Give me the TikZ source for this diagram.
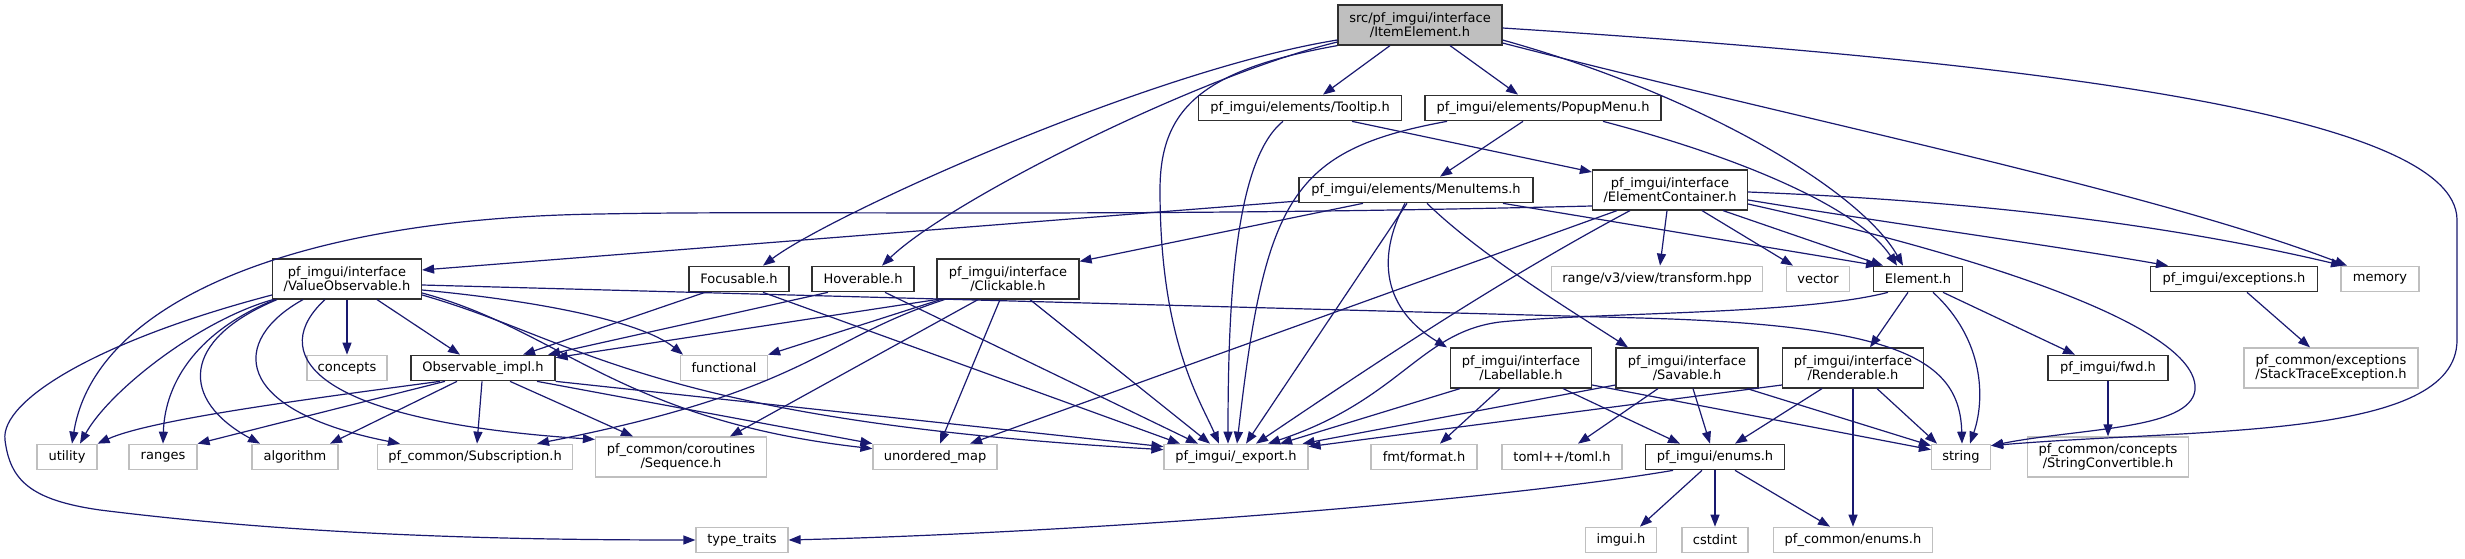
\documentclass[tikz,border=0pt]{standalone}
\usepackage{fontspec}
\setmainfont{DejaVu Sans}
\usepackage{tikz}
\usetikzlibrary{arrows.meta}

\definecolor{edgeblue}{HTML}{191970}
\definecolor{boxline}{HTML}{303030}
\definecolor{sysline}{HTML}{BFBFBF}
\definecolor{rootfill}{HTML}{BFBFBF}
\newcommand{\graphfont}{\fontsize{13}{14.3}\selectfont}

\begin{document}
\begin{tikzpicture}[
  x=1pt, y=1pt,
  hdr/.style={draw=boxline, fill=white, line width=1.2pt, inner sep=0pt, minimum height=25.5pt, align=center, font=\graphfont},
  sysbox/.style={hdr, draw=sysline},
  rootbox/.style={hdr, fill=rootfill},
  tall/.style={minimum height=40pt},
  dep/.style={draw=edgeblue, line width=1.2pt, -{Triangle[length=12pt,width=9pt]}}
]

% canvas
\fill[white] (0,0) rectangle (2465,-559);
\useasboundingbox (0,0) rectangle (2465,-559);

% ===== ROW 0 / 1 / 2 =====
\node[rootbox, tall, minimum width=164pt] at (1420,-25) (ie) {src/pf\_imgui/interface\\/ItemElement.h};
\node[hdr, minimum width=203pt] at (1300,-108) (tip) {pf\_imgui/elements/Tooltip.h};
\node[hdr, minimum width=236pt] at (1543,-108) (popup) {pf\_imgui/elements/PopupMenu.h};
\node[hdr, minimum width=234pt] at (1416,-190) (menu) {pf\_imgui/elements/MenuItems.h};
\node[hdr, tall, minimum width=155pt] at (1670,-190) (cont) {pf\_imgui/interface\\/ElementContainer.h};

% ===== ROW 3 =====
\node[hdr, tall, minimum width=149pt] at (347,-279) (valobs) {pf\_imgui/interface\\/ValueObservable.h};
\node[hdr, minimum width=100pt] at (739,-279) (focus) {Focusable.h};
\node[hdr, minimum width=102pt] at (863,-279) (hover) {Hoverable.h};
\node[hdr, tall, minimum width=142pt] at (1008,-279) (click) {pf\_imgui/interface\\/Clickable.h};
\node[sysbox, minimum width=211pt] at (1657,-279) (rng) {range/v3/view/transform.hpp};
\node[sysbox, minimum width=63pt] at (1818,-279) (vec) {vector};
\node[hdr, minimum width=89pt] at (1918,-279) (elem) {Element.h};
\node[hdr, minimum width=167pt] at (2234,-279) (exc) {pf\_imgui/exceptions.h};
\node[sysbox, minimum width=78pt] at (2380,-279) (mem) {memory};

% ===== ROW 4 =====
\node[sysbox, minimum width=80pt] at (347,-368) (concepts) {concepts};
\node[hdr, minimum width=144pt] at (483,-368) (obsimpl) {Observable\_impl.h};
\node[sysbox, minimum width=87pt] at (724,-368) (func) {functional};
\node[hdr, tall, minimum width=141pt] at (1521,-368) (label) {pf\_imgui/interface\\/Labellable.h};
\node[hdr, tall, minimum width=142pt] at (1687,-368) (save) {pf\_imgui/interface\\/Savable.h};
\node[hdr, tall, minimum width=141pt] at (1853,-368) (render) {pf\_imgui/interface\\/Renderable.h};
\node[hdr, minimum width=120pt] at (2108,-368) (fwd) {pf\_imgui/fwd.h};
\node[sysbox, tall, minimum width=174pt] at (2331,-368) (stack) {pf\_common/exceptions\\/StackTraceException.h};

% ===== ROW 5 =====
\node[sysbox, minimum width=60pt] at (67,-457) (util) {utility};
\node[sysbox, minimum width=68pt] at (163,-457) (ranges) {ranges};
\node[sysbox, minimum width=86pt] at (295,-457) (algo) {algorithm};
\node[sysbox, minimum width=195pt] at (475,-457) (subs) {pf\_common/Subscription.h};
\node[sysbox, tall, minimum width=171pt] at (681,-457) (seq) {pf\_common/coroutines\\/Sequence.h};
\node[sysbox, minimum width=124pt] at (935,-457) (umap) {unordered\_map};
\node[sysbox, minimum width=144pt] at (1236,-457) (export) {pf\_imgui/\_export.h};
\node[sysbox, minimum width=106pt] at (1424,-457) (fmt) {fmt/format.h};
\node[sysbox, minimum width=120pt] at (1562,-457) (toml) {toml++/toml.h};
\node[hdr, minimum width=139pt] at (1715,-457) (enums) {pf\_imgui/enums.h};
\node[sysbox, minimum width=59pt] at (1961,-457) (str) {string};
\node[sysbox, tall, minimum width=161pt] at (2108,-457) (strconv) {pf\_common/concepts\\/StringConvertible.h};

% ===== ROW 6 =====
\node[sysbox, minimum width=92pt] at (742,-540) (traits) {type\_traits};
\node[sysbox, minimum width=71pt] at (1621,-540) (imgui) {imgui.h};
\node[sysbox, minimum width=66pt] at (1715,-540) (cstdint) {cstdint};
\node[sysbox, minimum width=159pt] at (1853,-540) (pfenums) {pf\_common/enums.h};

% ===== ItemElement.h =====
\draw[dep] ([xshift=-30pt]ie.south) -- ([xshift=23pt]tip.north);
\draw[dep] ([xshift=30pt]ie.south) -- ([xshift=-25pt]popup.north);
\draw[dep] ([yshift=-15pt]ie.west) .. controls (1150,-70) and (830,-215) .. ([xshift=24pt]focus.north);
\draw[dep] ([yshift=-17pt]ie.west) .. controls (1200,-75) and (950,-200) .. ([xshift=19pt]hover.north);
\draw[dep] (ie.south west) .. controls (1200,-70) and (1160,-110) .. (1160,-190) .. controls (1160,-340) and (1200,-400) .. ([xshift=-17pt]export.north);
\draw[dep] ([yshift=-15pt]ie.east) .. controls (1700,-95) and (1860,-190) .. ([xshift=-15pt]elem.north);
\draw[dep] ([yshift=-18pt]ie.east) .. controls (1800,-120) and (2150,-190) .. ([xshift=-33pt]mem.north);
\draw[dep] ([yshift=-3pt]ie.east) .. controls (2000,-60) and (2457,-110) .. (2457,-220) -- (2457,-340) .. controls (2457,-440) and (2200,-428) .. ([yshift=-2pt]str.north east);

% ===== Tooltip.h / PopupMenu.h =====
\draw[dep] ([xshift=-17pt]tip.south) .. controls (1235,-160) and (1228,-300) .. ([xshift=-8pt]export.north);
\draw[dep] ([xshift=52pt]tip.south) -- ([yshift=18pt]cont.west);
\draw[dep] ([xshift=-20pt]popup.south) -- ([xshift=24pt]menu.north);
\draw[dep] ([xshift=-96pt]popup.south) .. controls (1290,-150) and (1265,-200) .. ([xshift=1pt]export.north);
\draw[dep] ([xshift=60pt]popup.south) .. controls (1750,-160) and (1860,-210) .. ([xshift=-21pt]elem.north);

% ===== MenuItems.h =====
\draw[dep] ([yshift=-11pt]menu.west) -- ([yshift=9pt]valobs.east);
\draw[dep] ([xshift=-53pt]menu.south) -- ([yshift=-3pt]click.north east);
\draw[dep] ([xshift=87pt]menu.south) -- ([xshift=-40pt]elem.north);
\draw[dep] ([xshift=-9pt]menu.south) -- ([xshift=10pt]export.north);
\draw[dep] ([xshift=-11pt]menu.south) .. controls (1375,-260) and (1385,-310) .. ([xshift=-74pt]label.north);
\draw[dep] ([xshift=11pt]menu.south) .. controls (1480,-255) and (1570,-310) .. ([xshift=-59pt]save.north);

% ===== ElementContainer.h =====
\draw[dep] ([yshift=-16pt]cont.west) .. controls (1100,-218) and (800,-210) .. (600,-214) .. controls (300,-218) and (95,-300) .. ([xshift=5pt]util.north);
\draw[dep] ([xshift=-53pt]cont.south) -- ([xshift=35pt]umap.north);
\draw[dep] ([xshift=-40pt]cont.south) .. controls (1500,-280) and (1380,-360) .. ([xshift=20pt]export.north);
\draw[dep] ([xshift=-3pt]cont.south) -- ([xshift=3pt]rng.north);
\draw[dep] ([xshift=32pt]cont.south) -- ([xshift=-25pt]vec.north);
\draw[dep] ([xshift=53pt]cont.south) -- ([xshift=-35pt]elem.north);
\draw[dep] ([yshift=-10pt]cont.east) .. controls (1900,-225) and (2050,-245) .. ([xshift=-66pt]exc.north);
\draw[dep] ([yshift=-2pt]cont.east) .. controls (1950,-200) and (2150,-220) .. ([xshift=-37pt]mem.north);
\draw[dep] ([yshift=-14pt]cont.east) .. controls (2000,-260) and (2200,-330) .. (2195,-390) .. controls (2190,-430) and (2080,-428) .. ([yshift=-2pt]str.north east);

% ===== ValueObservable.h =====
\draw[dep] ([yshift=-6pt]valobs.east) -- (1640,-318) .. controls (1900,-325) and (1960,-360) .. ([xshift=1pt]str.north);
\draw[dep] ([xshift=-74pt]valobs.south) .. controls (200,-320) and (110,-390) .. ([xshift=13pt]util.north);
\draw[dep] ([xshift=-72pt]valobs.south) .. controls (200,-330) and (165,-380) .. (ranges.north);
\draw[dep] ([xshift=-70pt]valobs.south) .. controls (180,-340) and (180,-400) .. ([xshift=-35pt]algo.north);
\draw[dep] ([xshift=-44pt]valobs.south) .. controls (230,-340) and (230,-410) .. ([xshift=-75pt]subs.north);
\draw[dep] ([xshift=-22pt]valobs.south) .. controls (270,-350) and (300,-420) .. ([yshift=-3pt]seq.north west);
\draw[dep] (valobs.south) -- (concepts.north);
\draw[dep] ([xshift=30pt]valobs.south) -- ([xshift=-23pt]obsimpl.north);
\draw[dep] ([yshift=-11pt]valobs.east) .. controls (530,-300) and (640,-320) .. ([xshift=-41pt]func.north);
\draw[dep] ([yshift=-14pt]valobs.east) .. controls (560,-330) and (620,-420) .. ([yshift=-5pt]umap.north west);
\draw[dep] ([yshift=-16pt]valobs.east) .. controls (580,-340) and (650,-420) .. ([yshift=-6pt]export.north west);
\draw[dep] ([yshift=-16pt]valobs.west) .. controls (100,-340) and (0,-400) .. (5,-440) .. controls (10,-480) and (30,-500) .. (100,-510) .. controls (300,-535) and (500,-540) .. (traits.west);

% ===== Observable_impl.h =====
\draw[dep] ([xshift=-43pt]obsimpl.south) .. controls (300,-400) and (150,-420) .. (util.north east);
\draw[dep] ([xshift=-38pt]obsimpl.south) -- (ranges.north east);
\draw[dep] ([xshift=-26pt]obsimpl.south) -- ([xshift=35pt]algo.north);
\draw[dep] ([xshift=-1pt]obsimpl.south) -- ([xshift=2pt]subs.north);
\draw[dep] ([xshift=27pt]obsimpl.south) -- ([xshift=-48pt]seq.north);
\draw[dep] ([xshift=54pt]obsimpl.south) -- (umap.north west);
\draw[dep] (obsimpl.south east) -- ([yshift=-3pt]export.north west);

% ===== Focusable.h / Hoverable.h / Clickable.h =====
\draw[dep] ([xshift=-34pt]focus.south) -- ([xshift=40pt]obsimpl.north);
\draw[dep] ([xshift=24pt]focus.south) -- ([xshift=-56pt]export.north);
\draw[dep] ([xshift=-35pt]hover.south) -- ([xshift=65pt]obsimpl.north);
\draw[dep] ([xshift=22pt]hover.south) -- ([xshift=-38pt]export.north);
\draw[dep] (click.south west) -- ([yshift=-3pt]obsimpl.north east);
\draw[dep] ([xshift=4pt]click.south west) -- (func.north east);
\draw[dep] ([xshift=8pt]click.south west) .. controls (820,-340) and (810,-390) .. ([xshift=62pt]subs.north);
\draw[dep] ([xshift=-30pt]click.south) -- ([xshift=49pt]seq.north);
\draw[dep] ([xshift=-8pt]click.south) -- ([xshift=5pt]umap.north);
\draw[dep] ([xshift=22pt]click.south) -- ([xshift=-26pt]export.north);

% ===== Labellable.h / Savable.h / Renderable.h =====
\draw[dep] ([xshift=-61pt]label.south) -- ([xshift=44pt]export.north);
\draw[dep] ([xshift=-21pt]label.south) -- ([xshift=16pt]fmt.north);
\draw[dep] ([xshift=42pt]label.south) -- ([xshift=-35pt]enums.north);
\draw[dep] ([yshift=-17pt]label.east) -- ([yshift=-6pt]str.north west);
\draw[dep] ([yshift=-17pt]save.west) -- ([xshift=-6pt]export.north east);
\draw[dep] ([xshift=-29pt]save.south) -- ([xshift=16pt]toml.north);
\draw[dep] ([xshift=6pt]save.south) -- ([xshift=-5pt]enums.north);
\draw[dep] ([xshift=60pt]save.south) -- ([yshift=-2pt]str.north west);
\draw[dep] ([yshift=-17pt]render.west) -- ([yshift=-3pt]export.north east);
\draw[dep] ([xshift=-31pt]render.south) -- ([xshift=20pt]enums.north);
\draw[dep] (render.south) -- (pfenums.north);
\draw[dep] ([xshift=24pt]render.south) -- ([xshift=-24pt]str.north);

% ===== Element.h =====
\draw[dep] ([xshift=-30pt]elem.south) .. controls (1800,-315) and (1600,-312) .. (1500,-322) .. controls (1420,-332) and (1400,-400) .. ([xshift=32pt]export.north);
\draw[dep] ([xshift=-10pt]elem.south) -- ([xshift=17pt]render.north);
\draw[dep] ([xshift=15pt]elem.south) .. controls (1985,-340) and (1985,-400) .. ([xshift=9pt]str.north);
\draw[dep] ([xshift=25pt]elem.south) -- ([xshift=-33pt]fwd.north);

% ===== fwd.h / exceptions.h / enums.h =====
\draw[dep] (fwd.south) -- (strconv.north);
\draw[dep] ([xshift=13pt]exc.south) -- ([xshift=-21pt]stack.north);
\draw[dep] ([xshift=-13pt]enums.south) -- ([xshift=19pt]imgui.north);
\draw[dep] (enums.south) -- (cstdint.north);
\draw[dep] ([xshift=20pt]enums.south) -- ([xshift=-23pt]pfenums.north);
\draw[dep] ([xshift=-42pt]enums.south) .. controls (1500,-500) and (1100,-532) .. (traits.east);

\end{tikzpicture}
\end{document}
